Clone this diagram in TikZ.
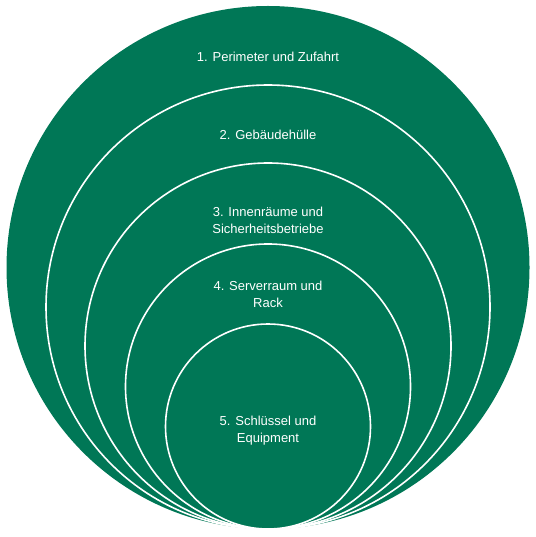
\documentclass[tikz,border=0pt]{standalone}
\usepackage{fontspec}
\setmainfont{Liberation Sans}
\definecolor{ringgreen}{RGB}{0,119,86}
\begin{document}
\begin{tikzpicture}[x=1pt,y=-1pt,
  ring/.style={circle,fill=ringgreen,inner sep=0pt,outer sep=0pt,minimum size=#1},
  inner ring/.style={ring=#1,draw=white,line width=1.6pt},
  lbl/.style={text=white,font=\fontsize{13}{17}\selectfont,align=center,inner sep=0pt}]
\useasboundingbox (0,0) rectangle (535,537);
\node[ring=523pt] (c1) at (268,267.5) {};
\node[inner ring=444pt] (c2) at (268,307) {};
\node[inner ring=366pt] (c3) at (268,346) {};
\node[inner ring=285pt] (c4) at (268,386.5) {};
\node[inner ring=205pt] (c5) at (268,426.5) {};
\node[lbl] (t1) at (268,57) {1. Perimeter und Zufahrt};
\node[lbl] (t2) at (268,135) {2. Gebäudehülle};
\node[lbl] (t3) at (268,220.5) {3. Innenräume und\\Sicherheitsbetriebe};
\node[lbl] (t4) at (268,294.5) {4. Serverraum und\\Rack};
\node[lbl] (t5) at (268,430.5) {5. Schlüssel und\\Equipment};
\end{tikzpicture}
\end{document}
